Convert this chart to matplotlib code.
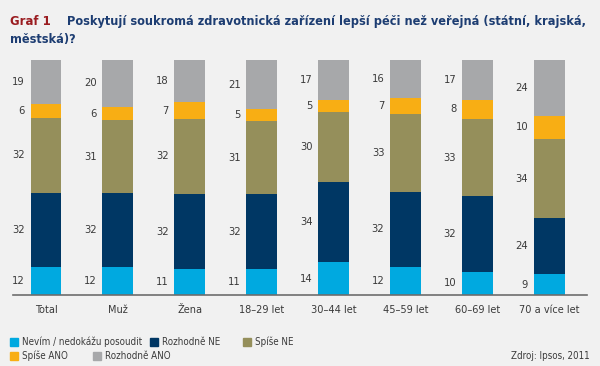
import numpy as np
import matplotlib
matplotlib.use("Agg")
import matplotlib.pyplot as plt
from matplotlib.patches import Rectangle

# data
categories = ["Total", "Muž", "Žena", "18–29 let", "30–44 let", "45–59 let", "60–69 let", "70 a více let"]
series = ["Nevím / nedokážu posoudit", "Rozhodně NE", "Spíše NE", "Spíše ANO", "Rozhodně ANO"]
nevim = [12, 12, 11, 11, 14, 12, 10, 9]
rozhodne_ne = [32, 32, 32, 32, 34, 32, 32, 24]
spise_ne = [32, 31, 32, 31, 30, 33, 33, 34]
spise_ano = [6, 6, 7, 5, 5, 7, 8, 10]
rozhodne_ano = [19, 20, 18, 21, 17, 16, 17, 24]
colors = ["#00a9e0", "#003764", "#958f5b", "#f8ae14", "#a7a8aa"]

bg = "#f1f1f1"
txt = "#3a3a3a"
plt.rcParams["font.family"] = "DejaVu Sans"
plt.rcParams["font.stretch"] = "condensed"

fig = plt.figure(figsize=(6, 3.66), dpi=100, facecolor=bg)
ax = fig.add_axes([13 / 600, 71 / 366, 574 / 600, 235 / 366])
ax.set_facecolor(bg)

data = np.array([nevim, rozhodne_ne, spise_ne, spise_ano, rozhodne_ano], dtype=float)
pct = data / data.sum(axis=0) * 100
x = np.arange(len(categories))
w = 0.43
bottom = np.zeros(len(categories))
for i in range(len(series)):
    ax.bar(x, pct[i], w, bottom=bottom, color=colors[i], edgecolor="none", label=series[i])
    for j in range(len(categories)):
        ax.annotate(str(int(data[i, j])), (x[j] - w / 2, bottom[j] + pct[i, j] / 2),
                    xytext=(-4, 0), textcoords="offset points", ha="right", va="center",
                    fontsize=8, color=txt)
    bottom += pct[i]

ax.set_xlim(-0.459, 7.528)
ax.set_ylim(0, 100)
ax.set_yticks([])
ax.set_xticks(x)
ax.set_xticklabels(categories, fontsize=7.8, color=txt)
ax.tick_params(axis="x", length=0, pad=7)
for s in ["top", "right", "left"]:
    ax.spines[s].set_visible(False)
ax.spines["bottom"].set_color("#6d6d6d")
ax.spines["bottom"].set_linewidth(1.2)

# title
tsize = 9.1
fig.text(10 / 600, 1 - 25 / 366, "Graf 1", color="#9a1c20", fontsize=tsize + 0.3, fontweight="bold", va="baseline")
fig.text(67 / 600, 1 - 25 / 366, "Poskytují soukromá zdravotnická zařízení lepší péči než veřejná (státní, krajská,",
         color="#1d3d72", fontsize=tsize, fontweight="bold", va="baseline")
fig.text(10 / 600, 1 - 43 / 366, "městská)?", color="#1d3d72", fontsize=tsize, fontweight="bold", va="baseline")

# legend
leg_pos = [(10, 342), (150, 342), (243, 342), (10, 356), (93, 356)]
for i, (lx, ly) in enumerate(leg_pos):
    fig.patches.append(Rectangle((lx / 600, 1 - (ly + 4) / 366), 8 / 600, 8 / 366,
                                 transform=fig.transFigure, color=colors[i]))
    fig.text((lx + 12) / 600, 1 - ly / 366, series[i], fontsize=7, color=txt, va="center")

fig.text(590 / 600, 1 - 356 / 366, "Zdroj: Ipsos, 2011", fontsize=7, color=txt, va="center", ha="right")

fig.savefig("out.png", dpi=100, facecolor=bg)
